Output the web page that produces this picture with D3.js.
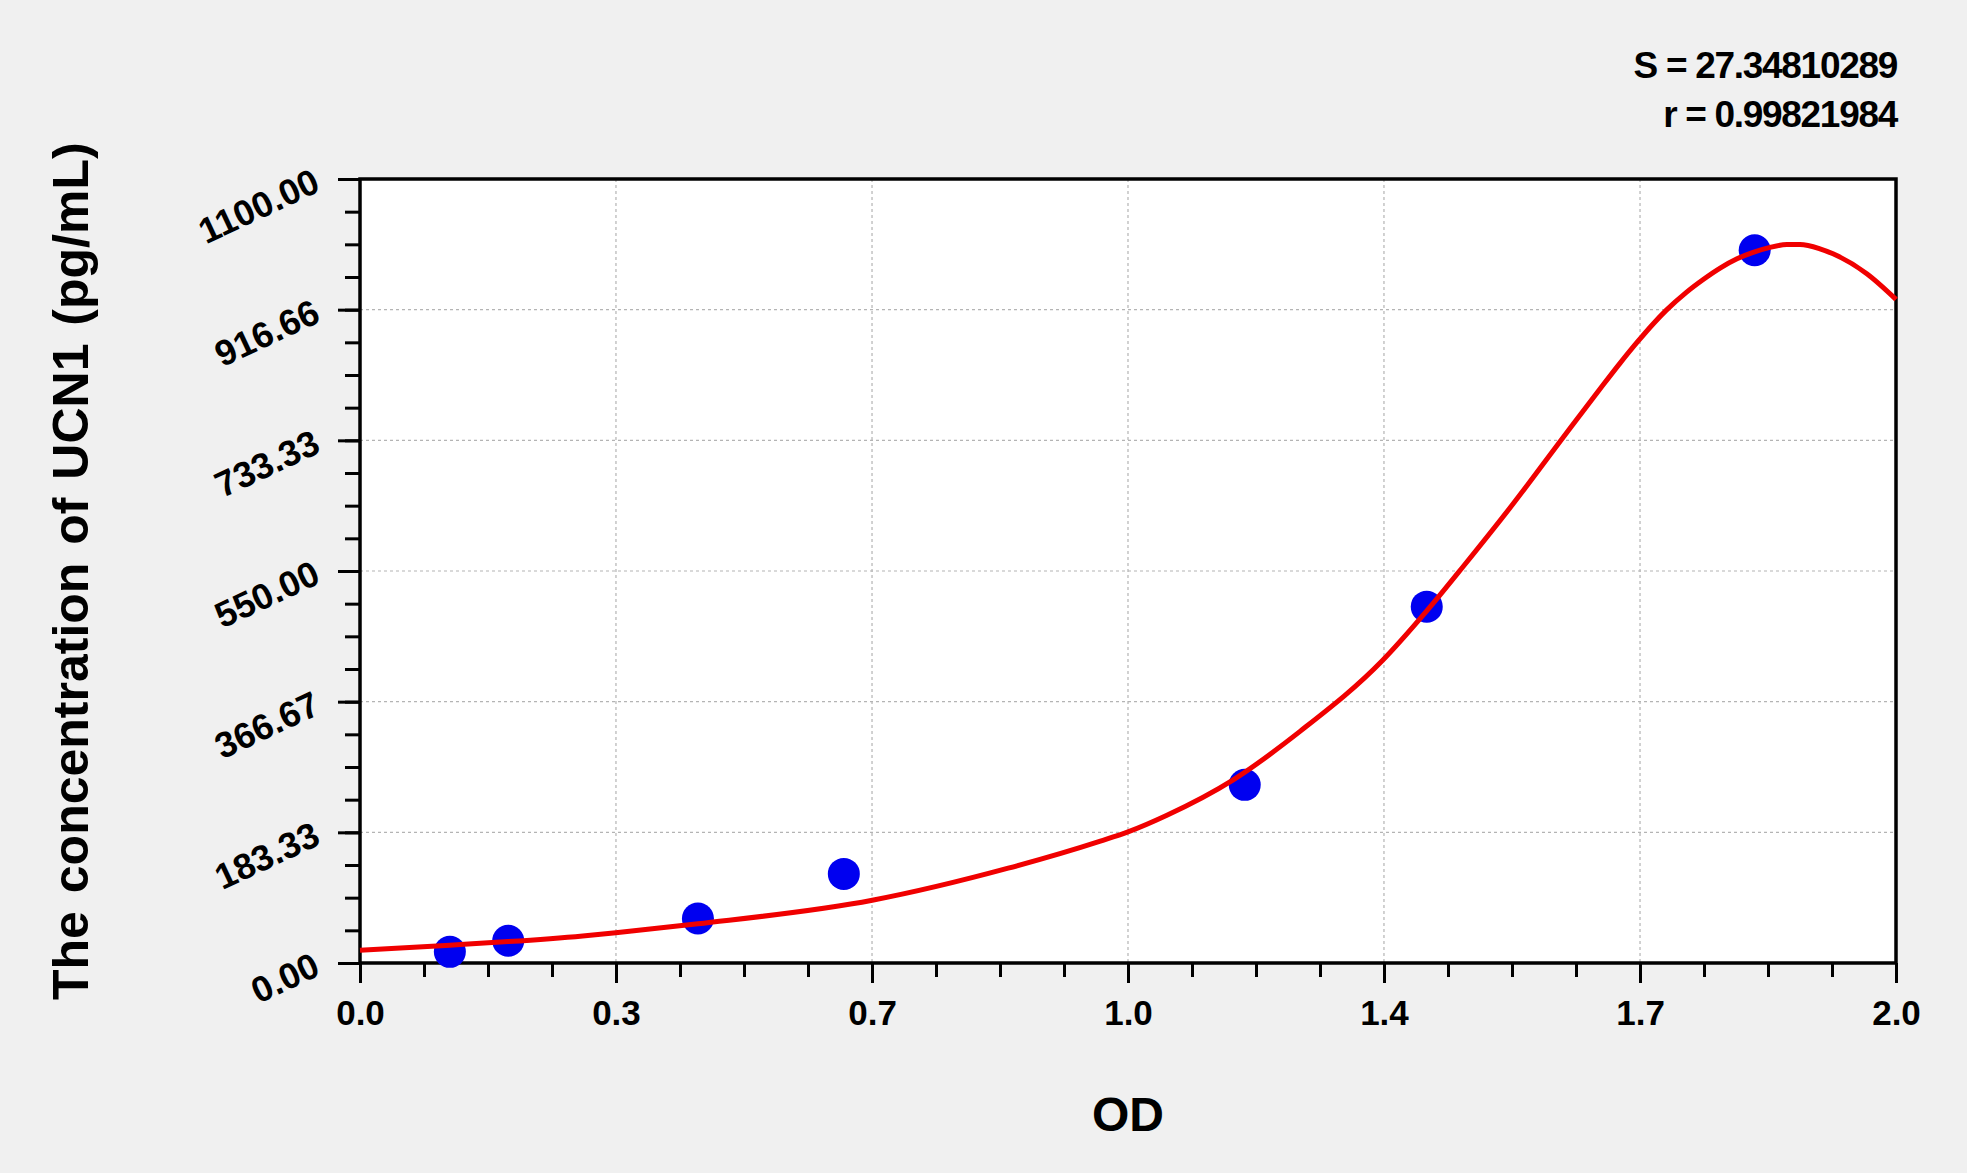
<!DOCTYPE html>
<html>
<head>
<meta charset="utf-8">
<script src="https://cdn.jsdelivr.net/npm/d3@7"></script>
<style>
  html, body { margin: 0; padding: 0; background: #f0f0f0; }
  svg { display: block; font-family: "Liberation Sans", Arial, sans-serif; }
</style>
</head>
<body>
<div id="chart"></div>
<script>
// standards (OD, concentration in pg/mL)
const odValues = [0.117, 0.193, 0.440, 0.630, 1.152, 1.389, 1.816];
const concValues = [15.63, 31.25, 62.5, 125, 250, 500, 1000];

// fitted curve
const curveOD = [0.0, 0.117, 0.193, 0.29, 0.333, 0.440, 0.667, 0.844, 0.964, 1.0, 1.05, 1.137, 1.224, 1.331, 1.389, 1.437, 1.502, 1.567, 1.615, 1.641, 1.663, 1.684, 1.701, 1.727, 1.749, 1.771, 1.793, 1.814, 1.836, 1.858, 1.875, 1.901, 1.918, 1.962, 2.0];
const curveConc = [18, 25, 30, 38, 42.5, 55, 88, 133, 171, 184, 207, 257, 325, 424, 494, 557, 645, 738, 806, 842, 871, 897, 916, 941, 959, 975, 988, 997, 1004, 1008, 1008, 1002, 995, 967, 931];

const xTicks = [0, 0.3333, 0.6667, 1.0, 1.3333, 1.6667, 2.0];
const xTickLabels = ["0.0", "0.3", "0.7", "1.0", "1.4", "1.7", "2.0"];
const yTicks = [0, 183.33, 366.67, 550, 733.33, 916.67, 1100];
const yTickLabels = ["0.00", "183.33", "366.67", "550.00", "733.33", "916.66", "1100.00"];

const statLines = ["S = 27.34810289", "r = 0.99821984"];

const width = 1967;
const height = 1173;
const plotLeft = 360;
const plotRight = 1896;
const plotTop = 179;
const plotBottom = 963;

const svg = d3.select("#chart")
    .append("svg")
    .attr("width", width)
    .attr("height", height);

svg.append("rect")
    .attr("width", width)
    .attr("height", height)
    .attr("fill", "#f0f0f0");

const x = d3.scaleLinear().domain([0, 2]).range([plotLeft, plotRight]);
const y = d3.scaleLinear().domain([0, 1100]).range([plotBottom, plotTop]);

// plot background
svg.append("rect")
    .attr("x", plotLeft)
    .attr("y", plotTop)
    .attr("width", plotRight - plotLeft)
    .attr("height", plotBottom - plotTop)
    .attr("fill", "#ffffff");

// dashed grid
const grid = svg.append("g").attr("stroke", "#b4b4b4").attr("stroke-width", 1.2).attr("stroke-dasharray", "3,3");
grid.selectAll(".gx")
    .data(xTicks.slice(1, -1))
    .enter().append("line")
    .attr("x1", d => x(d)).attr("x2", d => x(d))
    .attr("y1", plotTop).attr("y2", plotBottom);
grid.selectAll(".gy")
    .data(yTicks.slice(1, -1))
    .enter().append("line")
    .attr("x1", plotLeft).attr("x2", plotRight)
    .attr("y1", d => y(d)).attr("y2", d => y(d));

// minor ticks (4 sub-intervals per major)
const xMinor = d3.range(0, 24.5).map(i => i / 12);
const yMinor = d3.range(0, 24.5).map(i => i * 1100 / 24);

const xAxisMinor = d3.axisBottom(x).tickValues(xMinor).tickSize(14).tickFormat("");
const xAxis = d3.axisBottom(x).tickValues(xTicks).tickSize(20).tickPadding(17)
    .tickFormat((d, i) => xTickLabels[i]);
const yAxisMinor = d3.axisLeft(y).tickValues(yMinor).tickSize(15).tickFormat("");
const yAxis = d3.axisLeft(y).tickValues(yTicks).tickSize(22).tickFormat((d, i) => yTickLabels[i]);

const gxm = svg.append("g").attr("transform", `translate(0,${plotBottom})`).call(xAxisMinor);
const gx = svg.append("g").attr("transform", `translate(0,${plotBottom})`).call(xAxis);
const gym = svg.append("g").attr("transform", `translate(${plotLeft},0)`).call(yAxisMinor);
const gy = svg.append("g").attr("transform", `translate(${plotLeft},0)`).call(yAxis);

[gxm, gx, gym, gy].forEach(g => {
    g.select(".domain").remove();
    g.selectAll(".tick line").attr("stroke", "#000").attr("stroke-width", 3);
});

gx.selectAll(".tick text")
    .attr("fill", "#000")
    .attr("font-size", 35)
    .attr("font-weight", "bold")
    .attr("dy", "0.71em");

gy.selectAll(".tick text")
    .attr("fill", "#000")
    .attr("font-size", 36)
    .attr("font-weight", "bold")
    .attr("x", -43)
    .attr("dy", "0.33em")
    .attr("transform", "rotate(-25,-43,0)");

// plot frame
svg.append("rect")
    .attr("x", plotLeft)
    .attr("y", plotTop)
    .attr("width", plotRight - plotLeft)
    .attr("height", plotBottom - plotTop)
    .attr("fill", "none")
    .attr("stroke", "#000")
    .attr("stroke-width", 3.5);

// points
svg.append("g")
    .selectAll("circle")
    .data(odValues.map((d, i) => [d, concValues[i]]))
    .enter().append("circle")
    .attr("cx", d => x(d[0]))
    .attr("cy", d => y(d[1]))
    .attr("r", 16)
    .attr("fill", "#0000f0");

// fitted curve
const line = d3.line()
    .x(d => x(d[0]))
    .y(d => y(d[1]))
    .curve(d3.curveMonotoneX);

svg.append("path")
    .datum(curveOD.map((d, i) => [d, curveConc[i]]))
    .attr("d", line)
    .attr("fill", "none")
    .attr("stroke", "#f00000")
    .attr("stroke-width", 5);

// axis titles
svg.append("text")
    .attr("x", (plotLeft + plotRight) / 2)
    .attr("y", 1131)
    .attr("text-anchor", "middle")
    .attr("font-size", 48)
    .attr("font-weight", "bold")
    .text("OD");

svg.append("text")
    .attr("transform", "translate(88,1000) rotate(-90)")
    .attr("text-anchor", "start")
    .attr("font-size", 50)
    .attr("font-weight", "bold")
    .attr("word-spacing", "4px")
    .text("The concentration of UCN1 (pg/mL)");

// fit statistics
svg.append("g")
    .selectAll("text")
    .data(statLines)
    .enter().append("text")
    .attr("x", 1897)
    .attr("y", (d, i) => 78 + i * 49)
    .attr("text-anchor", "end")
    .attr("font-size", 37)
    .attr("font-weight", "bold")
    .attr("letter-spacing", "-1.3px")
    .text(d => d);
</script>
</body>
</html>
